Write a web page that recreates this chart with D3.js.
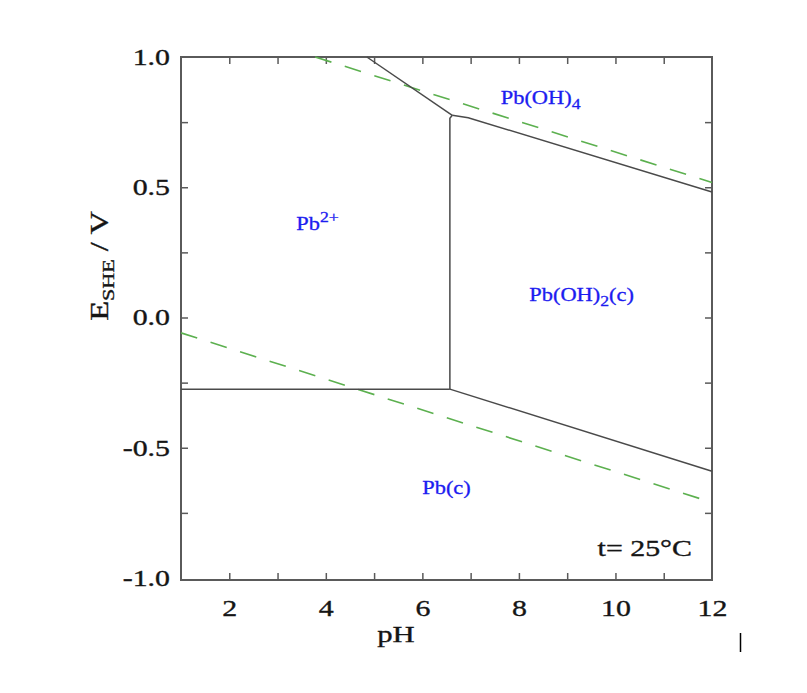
<!DOCTYPE html>
<html>
<head>
<meta charset="utf-8">
<script src="https://cdn.jsdelivr.net/npm/d3@7"></script>
<style>
  body { margin: 0; background: #fff; }
  svg text { font-family: "Liberation Serif", "DejaVu Serif", serif; }
</style>
</head>
<body>
<svg id="chart" width="807" height="693"></svg>
<script>
// pH / E values
const phDomain = [1, 12];
const eDomain = [-1.0, 1.0];
const xTicks = [2, 3, 4, 5, 6, 7, 8, 9, 10, 11];
const xLabels = [2, 4, 6, 8, 10, 12];
const yTicks = [-0.75, -0.5, -0.25, 0, 0.25, 0.5, 0.75];
const yLabels = [-1.0, -0.5, 0.0, 0.5, 1.0];

// solid boundaries, [pH, E]
const pb2Pb = [[1, -0.275], [6.57, -0.275]];
const pb2PbOH2 = [[6.57, -0.275], [6.57, 0.765], [6.62, 0.776]];
const pb2PbOH4 = [[4.85, 1.0], [6.62, 0.776]];
const pbOH4PbOH2 = [[6.62, 0.776], [6.95, 0.767], [12, 0.482]];
const pbOH2Pb = [[6.57, -0.275], [12, -0.59]];

// water lines (green dashed)
const waterUpper = [[3.78, 1.0], [12, 0.518]];
const waterLower = [[1, -0.059], [12, -0.71]];

// region labels (anchor = text centre, baseline)
const regions = [
  { name: "Pb(OH)", sub: "4", sup: "", tail: "", ph: 8.45, e: 0.82 },
  { name: "Pb", sub: "", sup: "2+", tail: "", ph: 3.83, e: 0.337 },
  { name: "Pb(OH)", sub: "2", sup: "", tail: "(c)", ph: 9.3, e: 0.062 },
  { name: "Pb(c)", sub: "", sup: "", tail: "", ph: 6.5, e: -0.678 }
];

drawPourbaix();

// the reference type is wide, so stretch text horizontally
function stretchText(sel, sx){
    sel.each(function(){
        const t = d3.select(this);
        const x0 = +t.attr('x') || 0;
        t.attr('x', x0 / sx).attr('transform', 'scale(' + sx + ',1)');
    });
}

function drawPourbaix(){
    const margin = {left: 181, top: 57, right: 95, bottom: 113};
    const svg = d3.select('#chart');
    const width = 807 - margin.left - margin.right;
    const height = 693 - margin.top - margin.bottom;

    const x = d3.scaleLinear().domain(phDomain).range([0, width]);
    const y = d3.scaleLinear().domain(eDomain).range([height - 2, 0]);

    const chart = svg.append('g')
        .attr('transform', 'translate(' + margin.left + ',' + margin.top + ')');

    const frameColor = '#5a5a5a';
    const ink = '#151515';

    // ticks inside, on all four sides
    const axisStyle = function(g){
        g.select('.domain').remove();
        g.selectAll('.tick line').attr('stroke', frameColor).attr('stroke-width', 1.5);
    };
    chart.append('g').attr('transform', 'translate(0,' + height + ')')
        .call(d3.axisBottom(x).tickValues(xTicks).tickSize(-7).tickFormat(''))
        .call(axisStyle);
    chart.append('g')
        .call(d3.axisTop(x).tickValues(xTicks).tickSize(-7).tickFormat(''))
        .call(axisStyle);
    chart.append('g')
        .call(d3.axisLeft(y).tickValues(yTicks).tickSize(-7).tickFormat(''))
        .call(axisStyle);
    chart.append('g').attr('transform', 'translate(' + width + ',0)')
        .call(d3.axisRight(y).tickValues(yTicks).tickSize(-7).tickFormat(''))
        .call(axisStyle);

    // labelled axes
    const xAxis = chart.append('g').attr('transform', 'translate(0,' + height + ')')
        .call(d3.axisBottom(x).tickValues(xLabels).tickSize(0).tickPadding(20).tickFormat(d3.format('d')));
    xAxis.select('.domain').remove();
    xAxis.selectAll('text').attr('font-size', 23).attr('fill', ink)
        .attr('stroke', ink).attr('stroke-width', 0.35)
        .style('font-family', '"Liberation Serif", serif');
    stretchText(xAxis.selectAll('text'), 1.3);

    const fmtE = function(d){ return d3.format('.1f')(d).replace('\u2212', '-'); };
    const yAxis = chart.append('g')
        .call(d3.axisLeft(y).tickValues(yLabels).tickSize(0).tickPadding(11).tickFormat(fmtE));
    yAxis.select('.domain').remove();
    yAxis.selectAll('text').attr('font-size', 23).attr('fill', ink)
        .attr('stroke', ink).attr('stroke-width', 0.35)
        .style('font-family', '"Liberation Serif", serif');
    stretchText(yAxis.selectAll('text'), 1.3);

    // frame
    chart.append('rect')
        .attr('width', width).attr('height', height)
        .attr('fill', 'none').attr('stroke', frameColor).attr('stroke-width', 2);

    const line = d3.line().x(function(d){ return x(d[0]); }).y(function(d){ return y(d[1]); });

    // water stability lines
    [waterUpper, waterLower].forEach(function(w){
        chart.append('path').datum(w)
            .attr('d', line)
            .attr('fill', 'none')
            .attr('stroke', '#5cb04f')
            .attr('stroke-width', 1.6)
            .attr('stroke-dasharray', '17,14');
    });

    // phase boundaries
    [pb2Pb, pb2PbOH2, pb2PbOH4, pbOH4PbOH2, pbOH2Pb].forEach(function(b){
        chart.append('path').datum(b)
            .attr('d', line)
            .attr('fill', 'none')
            .attr('stroke', '#4a4a4a')
            .attr('stroke-width', 1.5);
    });

    // region names
    regions.forEach(function(r){
        const t = chart.append('text')
            .attr('x', x(r.ph)).attr('y', y(r.e))
            .attr('text-anchor', 'middle')
            .attr('font-size', 19)
            .attr('fill', '#1c1cf0')
            .attr('stroke', '#1c1cf0').attr('stroke-width', 0.3);
        t.append('tspan').text(r.name);
        if(r.sub){
            t.append('tspan').attr('font-size', 15).attr('dy', 5).text(r.sub);
            if(r.tail) t.append('tspan').attr('font-size', 19).attr('dy', -5).text(r.tail);
        }
        if(r.sup){
            t.append('tspan').attr('font-size', 15).attr('dy', -8).text(r.sup);
        }
        stretchText(t, 1.18);
    });

    // temperature note
    const note = chart.append('text')
        .attr('x', width - 20).attr('y', 556 - margin.top)
        .attr('text-anchor', 'end')
        .attr('font-size', 23)
        .attr('fill', ink)
        .attr('stroke', ink).attr('stroke-width', 0.35)
        .text('t= 25°C');
    stretchText(note, 1.3);

    // axis titles
    const xt = svg.append('text')
        .attr('x', 396).attr('y', 642)
        .attr('text-anchor', 'middle')
        .attr('font-size', 24)
        .attr('fill', ink)
        .attr('stroke', ink).attr('stroke-width', 0.35)
        .text('pH');
    stretchText(xt, 1.28);

    const yt = svg.append('text')
        .attr('transform', 'translate(108,266) rotate(-90) scale(1.3,1)')
        .attr('text-anchor', 'middle')
        .attr('font-size', 25)
        .attr('fill', ink)
        .attr('stroke', ink).attr('stroke-width', 0.35);
    yt.append('tspan').text('E');
    yt.append('tspan').attr('font-size', 17).attr('dy', 6).text('SHE');
    yt.append('tspan').attr('dy', -6).text(' / V');

    // stray mark at bottom right
    svg.append('line')
        .attr('x1', 740.5).attr('x2', 740.5).attr('y1', 633).attr('y2', 652)
        .attr('stroke', '#000').attr('stroke-width', 1.5);
}
</script>
</body>
</html>
